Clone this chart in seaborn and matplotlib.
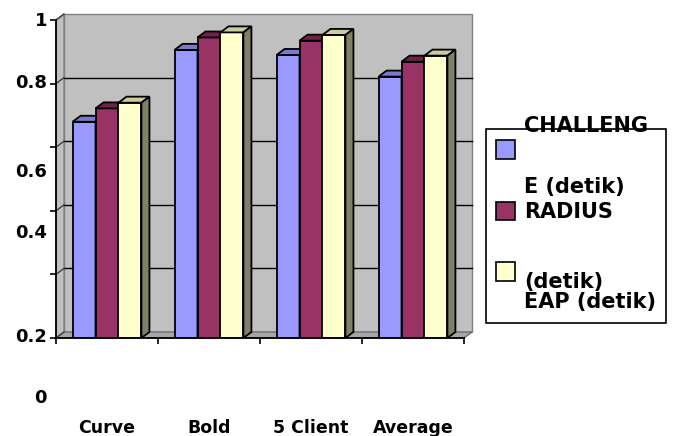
import matplotlib
matplotlib.use('Agg')
import matplotlib.pyplot as plt
import matplotlib.transforms as mtrans
from matplotlib.patches import Polygon, Rectangle
from matplotlib.lines import Line2D
import seaborn as sns
import pandas as pd
import numpy as np

# ---------------- data ----------------
categories = ['Curve', 'Bold', '5 Client', 'Average']
series = ['CHALLENGE (detik)', 'RADIUS (detik)', 'EAP (detik)']
challenge = [0.680, 0.906, 0.890, 0.822]
radius = [0.722, 0.945, 0.935, 0.869]
eap = [0.740, 0.961, 0.953, 0.888]
ytick_labels = ['1', '0.8', '0.6', '0.4', '0.2', '0']
legend_lines = ['CHALLENG', 'E (detik)', 'RADIUS', '(detik)', 'EAP (detik)']

# ---------------- style ----------------
front_colors = ['#9999FF', '#993366', '#FFFFCC']
top_colors = ['#7A7ACC', '#6E2449', '#CCCCA3']
side_colors = ['#6666AA', '#5C1F3D', '#808066']
FONT = ['DejaVu Sans']
plt.rcParams['font.family'] = FONT

W, H = 676, 436
fig = plt.figure(figsize=(W / 100, H / 100), dpi=100)
fig.patch.set_facecolor('white')

# front plot area (pixels)
L, R, T, B = 56, 464, 20, 338
ax = fig.add_axes([L / W, (H - B) / H, (R - L) / W, (B - T) / H])
ax.set_facecolor('none')

df = pd.DataFrame({
    'category': np.tile(categories, 3),
    'series': np.repeat(series, len(categories)),
    'value': challenge + radius + eap,
})

sns.barplot(data=df, x='category', y='value', hue='series', order=categories,
            hue_order=series, palette=front_colors, width=0.675, saturation=1,
            edgecolor='black', linewidth=1.3, errorbar=None, legend=False, ax=ax)

xl, xr = -0.5, len(categories) - 0.5
ax.set_xlim(xl, xr)
ax.set_ylim(0, 1)

# depth offset in data units (8 px right, 6 px up)
DXP, DYP = 8, 6
dxd = DXP * (xr - xl) / (R - L)
dyd = DYP * 1.0 / (B - T)

# back wall, left wall, floor
wall_kw = dict(clip_on=False, linewidth=1.0)
ax.add_patch(Polygon([(xl + dxd, dyd), (xr + dxd, dyd), (xr + dxd, 1 + dyd), (xl + dxd, 1 + dyd)],
                     closed=True, facecolor='#C0C0C0', edgecolor='#808080', zorder=0.5, **wall_kw))
ax.add_patch(Polygon([(xl, 0), (xl + dxd, dyd), (xl + dxd, 1 + dyd), (xl, 1)],
                     closed=True, facecolor='#C0C0C0', edgecolor='#808080', zorder=0.6, **wall_kw))
ax.add_patch(Polygon([(xl, 0), (xr, 0), (xr + dxd, dyd), (xl + dxd, dyd)],
                     closed=True, facecolor='#A6A6A6', edgecolor='#707070', zorder=0.6, **wall_kw))

yticks = [0, 0.2, 0.4, 0.6, 0.8, 1.0]
for v in yticks[1:-1]:
    ax.add_line(Line2D([xl + dxd, xr + dxd], [v + dyd, v + dyd], color='black', lw=1.0,
                       zorder=0.8, clip_on=False))
for v in yticks:
    ax.add_line(Line2D([xl, xl + dxd], [v, v + dyd], color='#404040', lw=1.0,
                       zorder=0.8, clip_on=False))

# 3D top and side faces derived from the seaborn bars
for i, cont in enumerate(ax.containers):
    for bar in cont:
        x, w, h = bar.get_x(), bar.get_width(), bar.get_height()
        z = 3 + i
        bar.set_zorder(z)
        ax.add_patch(Polygon([(x, h), (x + w, h), (x + w + dxd, h + dyd), (x + dxd, h + dyd)],
                             closed=True, facecolor=top_colors[i], edgecolor='black',
                             linewidth=1.3, zorder=z + 0.01, clip_on=False))
        ax.add_patch(Polygon([(x + w, 0), (x + w + dxd, dyd), (x + w + dxd, h + dyd), (x + w, h)],
                             closed=True, facecolor=side_colors[i], edgecolor='black',
                             linewidth=1.3, zorder=z + 0.01, clip_on=False))

# spines / ticks
for s in ['top', 'right']:
    ax.spines[s].set_visible(False)
for s in ['left', 'bottom']:
    ax.spines[s].set_color('black')
    ax.spines[s].set_linewidth(1.3)
    ax.spines[s].set_zorder(10)
ax.set_yticks(yticks)
ax.set_yticklabels([])
ax.tick_params(axis='y', length=4, width=1.2, color='black', direction='out')
ax.set_xticks(range(len(categories)))
ax.set_xticklabels(categories, fontsize=12.5, fontweight='bold')
ax.set_xticks(np.arange(xl, xr + 0.01, 1.0), minor=True)
ax.tick_params(axis='x', which='major', length=0, pad=58)
ax.tick_params(axis='x', which='minor', length=4, width=1.2, color='black', direction='out')
ax.set_xlabel('')
ax.set_ylabel('')

# y labels (as drawn in the reference, misplaced)
label_y = [0.998, 0.802, 0.522, 0.330, 0.003, -0.189]
blend = mtrans.blended_transform_factory(ax.transAxes, ax.transData)
for txt, yv in zip(ytick_labels, label_y):
    ax.text(-9 / (R - L), yv, txt, transform=blend, ha='right', va='center',
            fontsize=13, fontweight='bold', clip_on=False)

# legend drawn like the reference
def fx(x):
    return x / W

def fy(y):
    return 1 - y / H

fig.add_artist(Rectangle((fx(486), fy(323)), (666 - 486) / W, (323 - 129) / H,
                         transform=fig.transFigure, facecolor='white', edgecolor='black',
                         linewidth=1.2, zorder=1))
for (y0, y1), c in zip([(140, 159), (202, 220), (262, 281)], front_colors):
    fig.add_artist(Rectangle((fx(496), fy(y1)), (515 - 496) / W, (y1 - y0) / H,
                             transform=fig.transFigure, facecolor=c, edgecolor='black',
                             linewidth=1.2, zorder=2))
for txt, yc in zip(legend_lines, [126, 187, 212, 282, 302]):
    fig.text(fx(524), fy(yc), txt, ha='left', va='center', fontsize=15,
             fontweight='bold', zorder=3)

fig.savefig('out.png', dpi=100)
